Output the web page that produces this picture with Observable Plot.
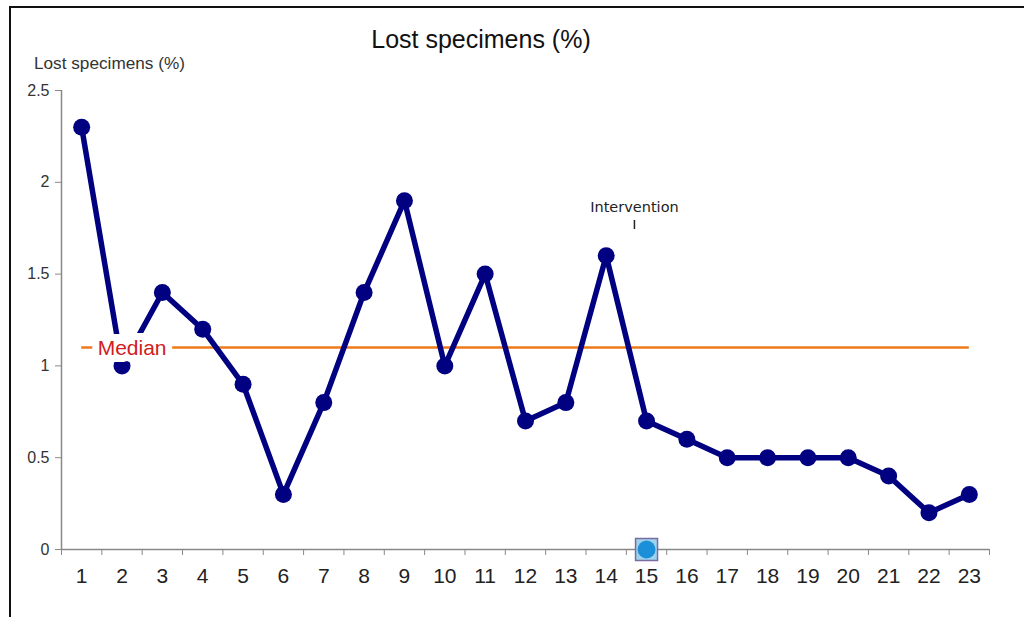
<!DOCTYPE html>
<html>
<head>
<meta charset="utf-8">
<script src="https://cdn.jsdelivr.net/npm/d3@7"></script>
<script src="https://cdn.jsdelivr.net/npm/@observablehq/plot@0.6"></script>
<style>
  html, body { margin: 0; padding: 0; background: #fff; }
  #wrap { position: relative; width: 1024px; height: 617px; overflow: hidden; }
  #frame { position: absolute; left: 9px; top: 6px; right: -5px; bottom: -5px; border-top: 2px solid #111; border-left: 2px solid #111; pointer-events: none; }
  #title { position: absolute; left: 0; width: 962px; top: 25px; text-align: center; font-family: "Liberation Sans", Arial, sans-serif; font-size: 25px; color: #111; }
  #ylab { position: absolute; left: 34px; top: 53px; font-family: "Liberation Sans", Arial, sans-serif; font-size: 17.2px; color: #333; }
  #chart { position: absolute; left: 0; top: 0; }
</style>
</head>
<body>
<div id="wrap">
  <div id="chart"></div>
  <div id="frame"></div>
  <div id="title">Lost specimens (%)</div>
  <div id="ylab">Lost specimens (%)</div>
</div>
<script>
const months = [1,2,3,4,5,6,7,8,9,10,11,12,13,14,15,16,17,18,19,20,21,22,23];
const lost = [2.3,1.0,1.4,1.2,0.9,0.3,0.8,1.4,1.9,1.0,1.5,0.7,0.8,1.6,0.7,0.6,0.5,0.5,0.5,0.5,0.4,0.2,0.3];
const yTicks = [0,0.5,1,1.5,2,2.5];
const medianValue = 1.1;
const medianLabel = "Median";
const interventionX = 14.7;
const interventionLabel = "Intervention";
const markerX = 15;
const markerY = 0;

const data = months.map((m, i) => ({month: m, value: lost[i]}));
const boundaries = [months[0] - 0.5, ...months.map(m => m + 0.5)];

const chart = Plot.plot({
  width: 1024,
  height: 617,
  marginLeft: 61,
  marginRight: 35,
  marginTop: 90,
  marginBottom: 68,
  style: {fontFamily: "Liberation Sans, Arial, sans-serif", background: "transparent"},
  x: {type: "linear", domain: [boundaries[0], boundaries[boundaries.length - 1]]},
  y: {domain: [0, 2.5]},
  marks: [
    Plot.ruleX([boundaries[0]], {stroke: "#888", strokeWidth: 1.5}),
    Plot.ruleY([0], {stroke: "#888", strokeWidth: 1.5}),
    Plot.axisY({ticks: yTicks, tickSize: 6, tickPadding: 6, fontSize: 16, label: null, stroke: "#888", color: "#333", tickFormat: d => String(d)}),
    Plot.axisX({ticks: boundaries, tickSize: 6, tickFormat: () => "", label: null, stroke: "#888"}),
    Plot.axisX({ticks: months, tickSize: 0, tickPadding: 19, fontSize: 21, label: null, color: "#222", tickFormat: d => String(d)}),
    Plot.ruleY([medianValue], {x1: months[0], x2: months[months.length - 1], stroke: "#ec7a1c", strokeWidth: 2.5}),
    Plot.line(data, {x: "month", y: "value", stroke: "#000080", strokeWidth: 5.5, strokeLinejoin: "round"}),
    Plot.dot(data, {x: "month", y: "value", r: 8.5, fill: "#000080"}),
    Plot.text([medianLabel], {x: months[0], y: medianValue, text: d => d, textAnchor: "start", dx: 16, dy: 1, fontSize: 21, fill: "#d02020", stroke: "white", strokeWidth: 14, strokeLinejoin: "miter"}),
    Plot.dot([{x: markerX, y: markerY}], {x: "x", y: "y", symbol: "square", r: 12.4, fill: "#9ed3f0", stroke: "#7a6c9e", strokeWidth: 1.5}),
    Plot.dot([{x: markerX, y: markerY}], {x: "x", y: "y", r: 9, fill: "#1b8fd8"}),
    Plot.text([interventionLabel], {x: interventionX, frameAnchor: "top", text: d => d, dy: 111, fontSize: 14.5, fontFamily: "DejaVu Sans, sans-serif", fill: "#222"}),
    Plot.ruleX([interventionX], {insetTop: 130, insetBottom: 320, stroke: "#222", strokeWidth: 1.5})
  ]
});
document.getElementById("chart").appendChild(chart);
</script>
</body>
</html>
